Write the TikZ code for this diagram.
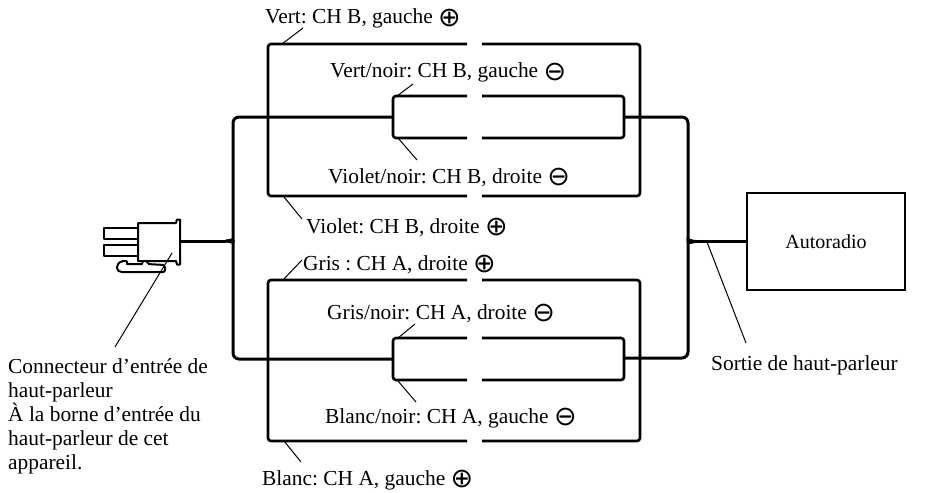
\documentclass[tikz,border=0pt]{standalone}
\usepackage{fontspec}
\setmainfont{Liberation Serif}
\newfontfamily\symfont{DejaVu Sans}
\newcommand{\cplus}{{\symfont\fontsize{27}{27}\selectfont\raisebox{-2.5pt}[0pt][0pt]{⊕}}}
\newcommand{\cminus}{{\symfont\fontsize{27}{27}\selectfont\raisebox{-2.5pt}[0pt][0pt]{⊖}}}
\frenchspacing
\tikzset{
  wire/.style={draw=black,line width=2.6pt,rounded corners=3pt,line cap=butt},
  trunk/.style={draw=black,line width=3pt,rounded corners=6pt},
  feed/.style={draw=black,line width=2.2pt},
  leader/.style={draw=black,line width=1pt},
  lab/.style={anchor=base west,inner sep=0pt,font=\fontsize{21.4}{24}\selectfont\frenchspacing,text=black},
  part/.style={draw=black,line width=2pt,line join=round},
}
\begin{document}
\begin{tikzpicture}[x=1pt,y=-1pt]
\useasboundingbox (0,0) rectangle (941,492);
% labels
\node[lab] (t1) at (265,24) {Vert: CH B, gauche \cplus};
\node[lab] (t2) at (330,78) {Vert/noir: CH B, gauche \cminus};
\node[lab] (t3) at (328,183) {Violet/noir: CH B, droite \cminus};
\node[lab] (t4) at (306,233) {Violet: CH B, droite \cplus};
\node[lab] (t5) at (303,270) {Gris : CH A, droite \cplus};
\node[lab] (t6) at (327,319) {Gris/noir: CH A, droite \cminus};
\node[lab] (t7) at (325,423) {Blanc/noir: CH A, gauche \cminus};
\node[lab] (t8) at (262,485) {Blanc: CH A, gauche \cplus};
\node[lab] (t9) at (711,370) {Sortie de haut-parleur};
\node[lab,align=left,anchor=north west] (t10) at (8,358.5) {Connecteur d’entrée de\\haut-parleur\\À la borne d’entrée du\\haut-parleur de cet\\appareil.};
% radio
\node[draw=black,line width=1.6pt,minimum width=158pt,minimum height=97pt,inner sep=0pt,font=\fontsize{20}{24}\selectfont] (radio) at (826,241.5) {Autoradio};
% named points
\foreach \n/\x/\y in {ca/268/44,cb/467/44,cc/482/44,cd/640/44,ce/268/196,cf/467/196,cg/482/196,ch/640/196,
  ia/393/96,ib/467/96,ic/482/96,id/624/96,ie/393/138,if/467/138,ig/482/138,ih/624/138,
  da/268/280,db/467/280,dc/482/280,dd/640/280,de/268/441,df/467/441,dg/482/441,dh/640/441,
  ja/393/338,jb/467/338,jc/482/338,jd/624/338,je/393/380,jf/467/380,jg/482/380,jh/624/380,
  m1l/393/117,m1r/624/117,m2l/393/359,m2r/624/358,ltop/233/117,lbot/233/359,
  lu/233/234,ll/233/248,lmid/226/241,
  rtop/688/117,rbot/688/358,ru/688/234,rl/688/248,rmid/696/241.5,plug/181/241,
  l1a/282/44,l1b/303/28,l2a/397/96,l2b/413/84,l3a/398/138,l3b/417/160,l4a/284/197,l4b/302/219,
  l5a/283/280,l5b/302/260,l6a/398/338,l6b/415/324,l7a/398/381,l7b/416/402,l8a/284/441,l8b/301/462,
  l9a/707/242,l9b/746/343,l10a/172/253,l10b/115/347}
  {\coordinate (\n) at (\x,\y);}
% upper group B
\draw[wire] (cb) -- (ca) -- (ce) -- (cf);
\draw[wire] (cc) -- (cd) -- (ch) -- (cg);
\draw[wire] (ib) -- (ia) -- (ie) -- (if);
\draw[wire] (ic) -- (id) -- (ih) -- (ig);
% lower group A
\draw[wire] (db) -- (da) -- (de) -- (df);
\draw[wire] (dc) -- (dd) -- (dh) -- (dg);
\draw[wire] (jb) -- (ja) -- (je) -- (jf);
\draw[wire] (jc) -- (jd) -- (jh) -- (jg);
% trunks
\draw[trunk] (m1l) -- (ltop) -- (lu) .. controls (233,239) and (230,241) .. (lmid);
\draw[trunk] (m2l) -- (lbot) -- (ll) .. controls (233,243) and (230,241) .. (lmid);
\draw[trunk] (m1r) -- (rtop) -- (ru) .. controls (688,239) and (691,241.5) .. (rmid);
\draw[trunk] (m2r) -- (rbot) -- (rl) .. controls (688,244) and (691,241.5) .. (rmid);
\draw[trunk] (plug) -- (lmid);
\draw[feed] (rmid) -- (rmid -| radio.west);
% leaders
\draw[leader] (l1a) -- (l1b);
\draw[leader] (l2a) -- (l2b);
\draw[leader] (l3a) -- (l3b);
\draw[leader] (l4a) -- (l4b);
\draw[leader] (l5a) -- (l5b);
\draw[leader] (l6a) -- (l6b);
\draw[leader] (l7a) -- (l7b);
\draw[leader] (l8a) -- (l8b);
\draw[leader] (l9a) -- (l9b);
% connector
\draw[part,rounded corners=2pt] (127,261) -- (121,261) -- (117,265) -- (117,270) -- (120,272) -- (165,272) -- (165,265) -- (147,264) -- (147,261);
\draw[part] (127,261) -- (127,264) -- (142,264) -- (143,261);
\draw[part] (104,228) rectangle (138,239);
\draw[part] (104,245) rectangle (138,256);
\draw[part] (138,223) -- (176,223) -- (177,219.5) -- (180,219.5) -- (180,264.5) -- (177,264.5) -- (176,261) -- (138,261) -- cycle;
\draw[leader] (l10a) -- (l10b);
\end{tikzpicture}
\end{document}
